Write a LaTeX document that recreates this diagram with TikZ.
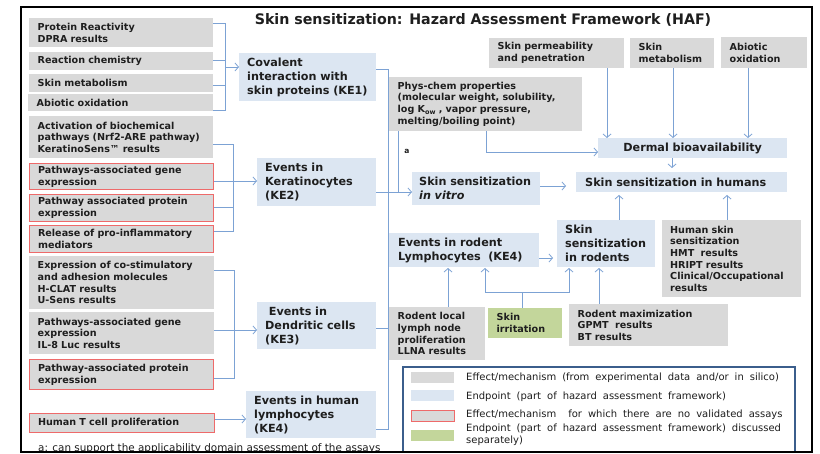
\documentclass[tikz,border=0pt]{standalone}
\usepackage{fontspec}
\setmainfont{DejaVu Sans}
\newfontfamily\titlefont[FakeStretch=0.98]{DejaVu Sans}
\usetikzlibrary{arrows.meta}
\definecolor{grayf}{HTML}{D9D9D9}
\definecolor{bluef}{HTML}{DCE6F2}
\definecolor{redb}{HTML}{EE6A6A}
\definecolor{greenf}{HTML}{C3D69B}
\definecolor{linec}{HTML}{7CA2D4}
\definecolor{legb}{HTML}{3B5E8C}
\definecolor{txt}{HTML}{1E1E1E}
\newcommand\smallbold{\bfseries\fontsize{9.6}{11.7}\selectfont}
\newcommand\bigbold{\bfseries\fontsize{11.2}{14}\selectfont}
\newcommand\legfont{\fontsize{10}{12.2}\selectfont\spaceskip=6pt plus 1pt}
\tikzset{
  gbox/.style={fill=grayf, anchor=north west, align=left, inner xsep=8.5pt, inner ysep=0pt, text=txt, font=\smallbold},
  rbox/.style={gbox, draw=redb, line width=1.1pt},
  grbox/.style={gbox, fill=greenf},
  bbox/.style={fill=bluef, anchor=north west, align=left, inner xsep=8pt, inner ysep=0pt, text=txt, font=\bigbold},
  conn/.style={draw=linec, line width=0.8pt},
  arr/.style={conn, -{Straight Barb[length=3.5pt,width=8pt]}},
  swatch/.style={anchor=north west, inner sep=0pt, minimum width=43pt},
  legtext/.style={anchor=west, inner sep=0pt, align=left, text=txt, font=\legfont},
}
\begin{document}
\begin{tikzpicture}[x=1pt,y=-1pt]
\useasboundingbox (0,0) rectangle (820,454);
\fill[white] (0,0) rectangle (820,454);

% title
\node[text=txt, font=\titlefont\bfseries\fontsize{14.5}{16}\selectfont] (title) at (483,20) {Skin sensitization: Hazard Assessment Framework (HAF)};

% left column
\node[gbox, text width=167pt, minimum height=29pt] (p1) at (29,18) {Protein Reactivity\\DPRA results};
\node[gbox, text width=167pt, minimum height=18pt] (p2) at (29,52) {Reaction chemistry};
\node[gbox, text width=167pt, minimum height=18pt] (p3) at (29,74) {Skin metabolism};
\node[gbox, text width=168pt, minimum height=17pt] (p4) at (28,94) {Abiotic oxidation};
\node[gbox, text width=167pt, minimum height=42pt] (p5) at (29,116) {Activation of biochemical\\pathways (Nrf2-ARE pathway)\\KeratinoSens™ results};
\node[rbox, text width=167pt, minimum height=26pt] (p6) at (29,163) {Pathways-associated gene\\expression};
\node[rbox, text width=167pt, minimum height=27pt] (p7) at (29,194) {Pathway associated protein\\expression};
\node[rbox, text width=167pt, minimum height=27pt] (p8) at (29,225) {Release of pro-inflammatory\\mediators};
\node[gbox, text width=168pt, minimum height=53pt] (p9) at (29,256) {Expression of co-stimulatory\\and adhesion molecules\\H-CLAT results\\U-Sens results};
\node[gbox, text width=168pt, minimum height=42pt] (p10) at (29,312) {Pathways-associated gene\\expression\\IL-8 Luc results};
\node[rbox, text width=167pt, minimum height=30pt] (p11) at (29,359) {Pathway-associated protein\\expression};
\node[rbox, text width=168pt, minimum height=19pt] (p12) at (29,413) {Human T cell proliferation};

% key events
\node[bbox, text width=121pt, minimum height=48pt] (ke1) at (239,53) {Covalent\\interaction with\\skin proteins (KE1)};
\node[bbox, text width=103pt, minimum height=48pt] (ke2) at (257,158) {Events in\\Keratinocytes\\(KE2)};
\node[bbox, text width=103pt, minimum height=47pt] (ke3) at (257,302) {\ Events in\\Dendritic cells\\(KE3)};
\node[bbox, text width=114pt, minimum height=47pt] (ke4h) at (246,391) {Events in human\\lymphocytes\\(KE4)};

% right part
\node[gbox, text width=176pt, minimum height=54pt] (pc) at (389,77) {Phys-chem properties\\(molecular weight, solubility,\\log K{\fontsize{6.5}{6}\selectfont\raisebox{-2pt}{ow}} , vapor pressure,\\melting/boiling point)};
\node[gbox, text width=118pt, minimum height=30pt] (perm) at (489,38) {Skin permeability\\and penetration};
\node[gbox, text width=67pt, minimum height=30pt] (smet) at (630,38) {Skin\\metabolism};
\node[gbox, text width=69pt, minimum height=31pt] (abio) at (721,37) {Abiotic\\oxidation};
\node[bbox, align=center, text width=173pt, minimum height=20pt] (derm) at (598,138) {Dermal bioavailability};
\node[bbox, inner xsep=9pt, text width=193pt, minimum height=20pt] (hum) at (576,172) {Skin sensitization in humans};
\node[bbox, inner xsep=7pt, text width=114pt, minimum height=33pt] (vit) at (412,172) {Skin sensitization\\\textit{in vitro}};
\node[bbox, inner xsep=9pt, text width=132pt, minimum height=34pt] (rly) at (389,233) {Events in rodent\\Lymphocytes\ \ (KE4)};
\node[bbox, text width=82pt, minimum height=47pt] (rod) at (557,220) {Skin\\sensitization\\in rodents};
\node[gbox, inner xsep=8pt, text width=123pt, minimum height=77pt] (hss) at (662,220) {Human skin\\sensitization\\HMT\ \ results\\HRIPT results\\Clinical/Occupational\\results};
\node[gbox, text width=79pt, minimum height=53pt] (llna) at (389,307) {Rodent local\\lymph node\\proliferation\\LLNA results};
\node[grbox, text width=57pt, minimum height=30pt] (irr) at (488,308) {Skin\\irritation};
\node[gbox, text width=142pt, minimum height=42pt] (rmax) at (569,304) {Rodent maximization\\GPMT\ \ results\\BT results};

\node[text=txt, font=\bfseries\fontsize{7.5}{8}\selectfont, inner sep=0pt] (alab) at (407,151) {a};

% left connectors
\draw[conn] (p1.east|-0,23) -| (225,110) -- (p4.east|-0,110);
\draw[conn] (p2.east|-0,60) -- (225,60);
\draw[conn] (p3.east|-0,85) -- (225,85);
\draw[arr] (225,67) -- (ke1.west|-0,67);
\draw[conn] (p5.east|-0,144) -| (233,231) -- (p8.east|-0,231);
\draw[conn] (p7.east|-0,207) -- (233,207);
\draw[arr] (p6.east|-0,181) -- (ke2.west|-0,181);
\draw[conn] (p9.east|-0,270) -| (234,378) -- (p11.east|-0,378);
\draw[arr] (p10.east|-0,330) -- (ke3.west|-0,330);
\draw[arr] (p12.east|-0,419) -- (ke4h.west|-0,419);

% right bracket
\draw[conn] (ke1.east|-0,69) -| (388,429) -- (ke4h.east|-0,429);
\draw[conn] (ke3.east|-0,328) -- (388,328);
\draw[arr] (ke2.east|-0,192) -- (vit.west|-0,192);
\draw[conn] (pc.south-|398,0) -- (398,192);
\draw[arr] (pc.south-|486,0) |- (derm.west|-0,152);

% dermal inputs
\draw[arr] (perm.south-|607,0) -- (derm.north-|607,0);
\draw[arr] (smet.south-|673,0) -- (derm.north-|673,0);
\draw[arr] (abio.south-|748,0) -- (derm.north-|748,0);
\draw[arr] (derm.south-|672,0) -- (672,168);

% endpoints
\draw[arr] (vit.east|-0,186) -- (566,186);
\draw[arr] (rly.east|-0,258) -- (553,258);
\draw[arr] (rod.north-|619,0) -- (619,195);
\draw[arr] (hss.north-|727,0) -- (727,195);
\draw[arr] (llna.north-|448,0) -- (448,268);
\draw[conn] (irr.north-|522,0) -- (522,292);
\draw[arr] (522,292) -| (485,268);
\draw[arr] (522,292) -| (569,268);
\draw[arr] (rmax.north-|599,0) -- (599,268);

% legend
\draw[legb, line width=1.6pt] (403,367) rectangle (795,452);
\node[swatch, fill=grayf, minimum height=11pt] (s1) at (411,372) {};
\node[swatch, fill=bluef, minimum height=11pt] (s2) at (411,390) {};
\node[swatch, fill=grayf, draw=redb, line width=1pt, minimum height=11pt] (s3) at (411,410) {};
\node[swatch, fill=greenf, minimum height=11pt] (s4) at (411,430) {};
\node[legtext] (l1) at (466,378) {Effect/mechanism (from experimental data and/or in silico)};
\node[legtext] (l2) at (466,397) {Endpoint (part of hazard assessment framework)};
\node[legtext] (l3) at (466,415) {Effect/mechanism \ for which there are no validated assays};
\node[legtext] (l4) at (466,435) {Endpoint (part of hazard assessment framework) discussed\\separately)};

% footnote
\begin{scope}
\clip (21,7) rectangle (812,451);
\node[anchor=base west, inner sep=0pt, text=txt, font=\fontsize{10.4}{11}\selectfont] (foot) at (38,452) {a: can support the applicability domain assessment of the assays};
\end{scope}

% frame
\draw[black, line width=2pt] (21,7) rectangle (812,452);
\end{tikzpicture}
\end{document}
